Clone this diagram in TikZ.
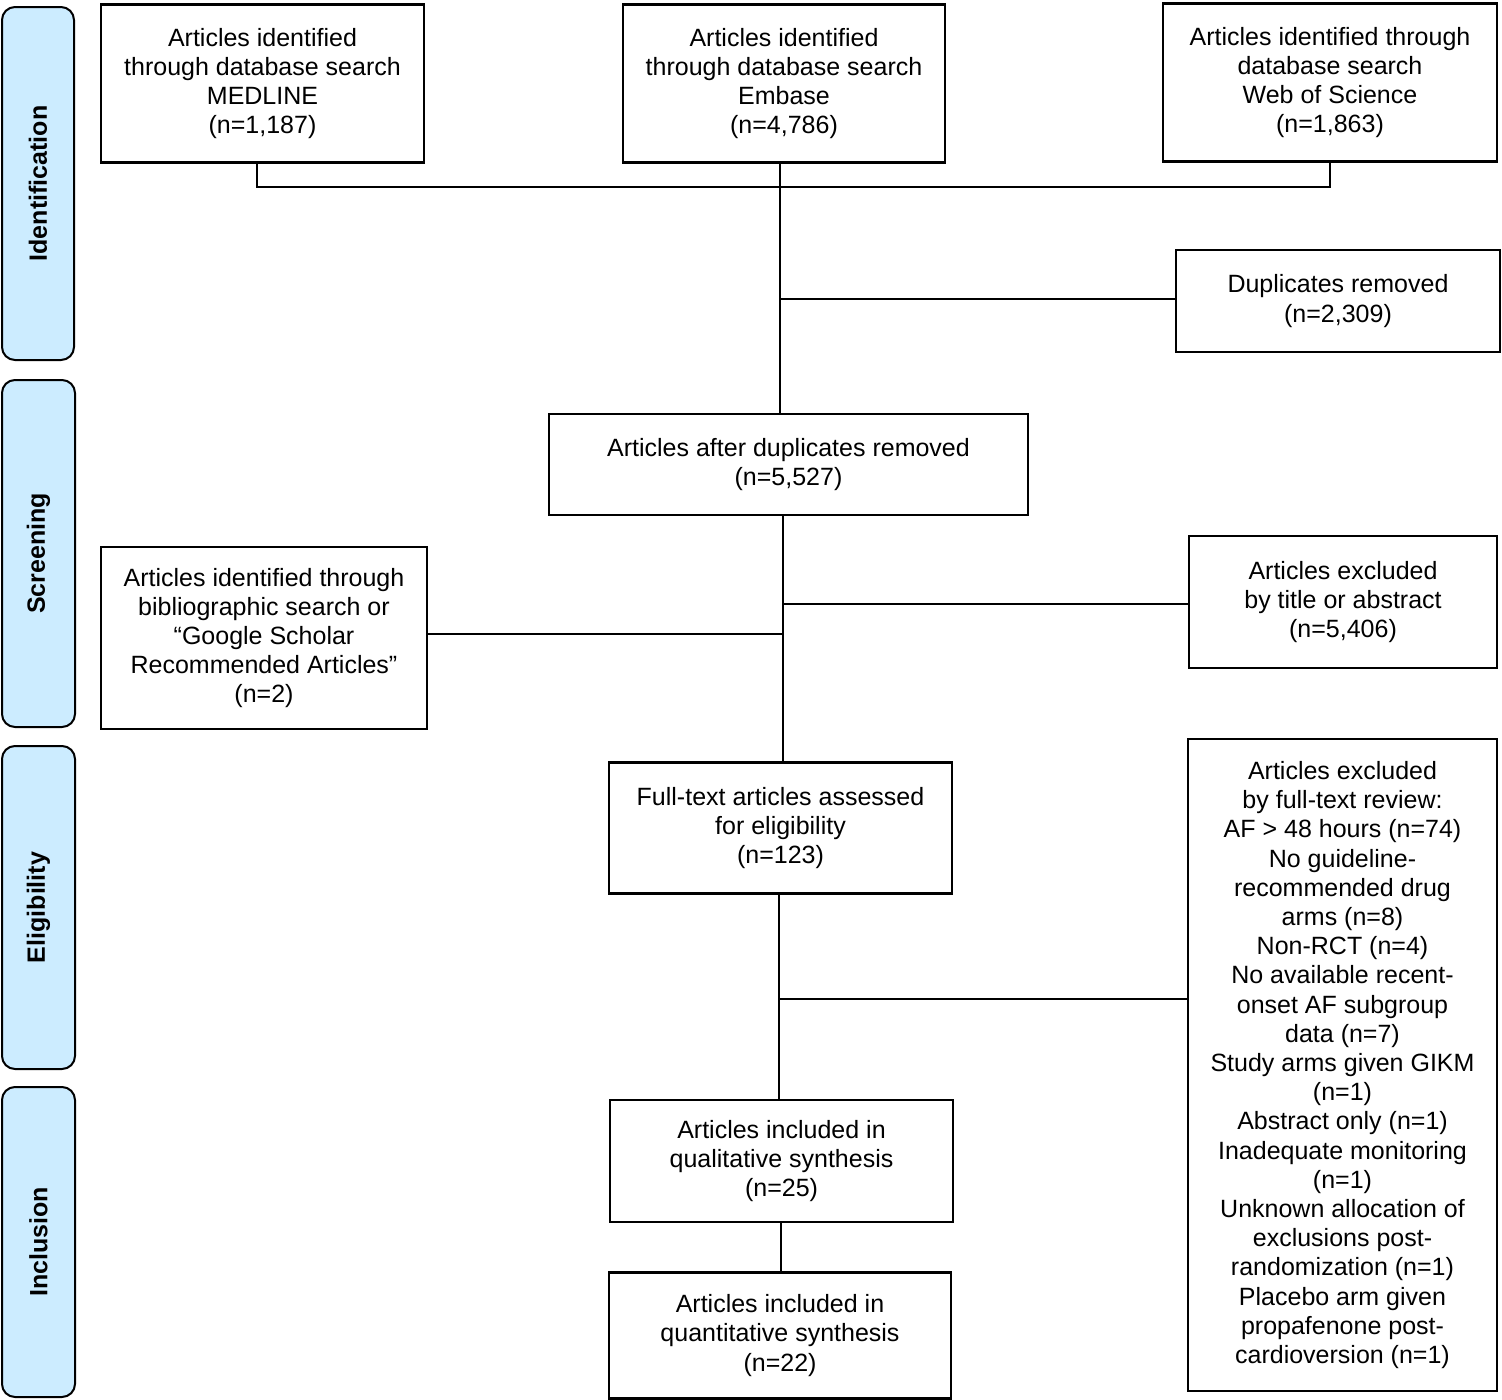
\documentclass[tikz,border=0pt]{standalone}
\usepackage{fontspec}
\setmainfont{Liberation Sans}
\definecolor{sidefill}{HTML}{CCECFF}
\begin{document}
\begin{tikzpicture}[x=1pt,y=-1pt,
  box/.style={draw=black, line width=2.8pt, fill=white, align=center, inner sep=0pt,
    font=\fontsize{25}{29.2}\selectfont},
  sidebox/.style={draw=black, line width=2pt, fill=sidefill, rounded corners=13pt,
    rotate=90, inner sep=0pt, font=\fontsize{25}{29}\selectfont\bfseries},
  conn/.style={line width=2pt}]
\useasboundingbox (0,0) rectangle (1502,1400);
% phase labels
\node[sidebox, minimum width=353, minimum height=72] (sid) at (38,183.5) {Identification};
\node[sidebox, minimum width=347, minimum height=73] (ssc) at (38.5,553.5) {Screening};
\node[sidebox, minimum width=323, minimum height=73] (sel) at (38.5,907.5) {Eligibility};
\node[sidebox, minimum width=310, minimum height=73] (sin) at (38.5,1242) {Inclusion};
% boxes
\node[box, minimum width=323, minimum height=158] (med) at (262.5,83.5) {Articles identified\\through database search\\MEDLINE\\(n=1,187)};
\node[box, minimum width=322, minimum height=158] (emb) at (784,83.5) {Articles identified\\through database search\\Embase\\(n=4,786)};
\node[box, minimum width=334, minimum height=158] (wos) at (1330,82.5) {Articles identified through\\database search\\Web of Science\\(n=1,863)};
\node[box, minimum width=324, minimum height=102] (dup) at (1338,301) {Duplicates removed\\(n=2,309)};
\node[box, minimum width=479, minimum height=101] (aft) at (788.5,464.5) {Articles after duplicates removed\\(n=5,527)};
\node[box, minimum width=308, minimum height=132] (ext) at (1343,602) {Articles excluded\\by title or abstract\\(n=5,406)};
\node[box, minimum width=326, minimum height=182] (bib) at (264,638) {Articles identified through\\bibliographic search or\\“Google Scholar\\Recommended Articles”\\(n=2)};
\node[box, minimum width=343, minimum height=131] (ful) at (780.5,828) {Full-text articles assessed\\for eligibility\\(n=123)};
\node[box, minimum width=309, minimum height=652] (exf) at (1342.5,1065) {Articles excluded\\by full-text review:\\AF > 48 hours (n=74)\\No guideline-\\recommended drug\\arms (n=8)\\Non-RCT (n=4)\\No available recent-\\onset AF subgroup\\data (n=7)\\Study arms given GIKM\\(n=1)\\Abstract only (n=1)\\Inadequate monitoring\\(n=1)\\Unknown allocation of\\exclusions post-\\randomization (n=1)\\Placebo arm given\\propafenone post-\\cardioversion (n=1)};
\node[box, minimum width=343, minimum height=122] (qul) at (781.5,1161) {Articles included in\\qualitative synthesis\\(n=25)};
\node[box, minimum width=342, minimum height=126] (qnt) at (780,1335.5) {Articles included in\\quantitative synthesis\\(n=22)};
% junctions
\coordinate (j0) at (257,187);
\coordinate (j1) at (780,187);
\coordinate (j2) at (783,604);
\coordinate (j3) at (779,999);
% connectors
\draw[conn] (j0 |- med.south) -- (j0) -- (wos.south |- j1) -- (wos.south);
\draw[conn] (emb.south -| j1) -- (j1);
\draw[conn] (j1) -- (j1 |- aft.north);
\draw[conn] (j1 |- 0,299) -- (dup.west |- 0,299);
\draw[conn] (j2 |- aft.south) -- (j2 |- ful.north);
\draw[conn] (j2) -- (ext.west |- j2);
\draw[conn] (bib.east |- 0,634) -- (j2 |- 0,634);
\draw[conn] (j3 |- ful.south) -- (j3 |- qul.north);
\draw[conn] (j3) -- (exf.west |- j3);
\draw[conn] (qul.south -| 781,0) -- (qnt.north -| 781,0);
\end{tikzpicture}
\end{document}
